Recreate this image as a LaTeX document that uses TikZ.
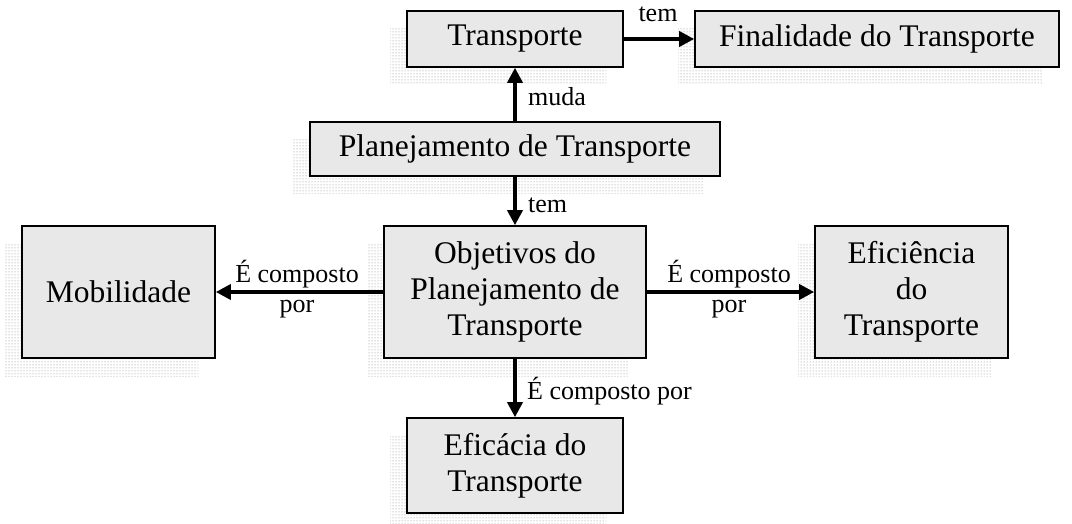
\documentclass[tikz,border=0pt]{standalone}
\usepackage{fontspec}
\setmainfont{Liberation Serif}
\usetikzlibrary{arrows.meta,shadows,patterns}
\definecolor{boxfill}{HTML}{E8E8E8}
\definecolor{dotgray}{HTML}{808080}
\begin{document}
\begin{tikzpicture}[x=1pt,y=-1pt,
  box/.style={draw=black, line width=1.6pt, fill=boxfill, inner sep=0pt, align=center,
    font=\fontsize{31.5}{36}\selectfont,
    general shadow={shadow xshift=-17pt, shadow yshift=-18pt, pattern=dots, pattern color=dotgray}},
  conn/.style={line width=3.5pt, -{Triangle[length=15pt,width=15pt]}},
  lbl/.style={inner sep=0pt, align=center, font=\fontsize{26}{30}\selectfont}]
\useasboundingbox (0,0) rectangle (1072,524);
\node[box, minimum width=216pt, minimum height=56pt] (trans) at (515,39) {Transporte};
\node[box, minimum width=364pt, minimum height=56pt] (fin) at (877,39) {Finalidade do Transporte};
\node[box, minimum width=410pt, minimum height=54pt] (plan) at (515,149) {Planejamento de Transporte};
\node[box, minimum width=262pt, minimum height=132pt] (obj) at (515,292) {Objetivos do\\Planejamento de\\Transporte};
\node[box, minimum width=193pt, minimum height=132pt] (mob) at (118.5,292) {Mobilidade};
\node[box, minimum width=193pt, minimum height=132pt] (efic) at (911.5,292) {Eficiência\\do\\Transporte};
\node[box, minimum width=216pt, minimum height=95pt] (efca) at (515,465.5) {Eficácia do\\Transporte};
\draw[conn] (trans.east) -- (fin.west);
\draw[conn] (plan.north) -- (trans.south);
\draw[conn] (plan.south) -- (obj.north);
\draw[conn] (obj.west) -- (mob.east);
\draw[conn] (obj.east) -- (efic.west);
\draw[conn] (obj.south) -- (efca.north);
\node[lbl] (l1) at (658,14) {tem};
\node[lbl, anchor=west] (l2) at (528,97) {muda};
\node[lbl, anchor=west] (l3) at (528,205) {tem};
\node[lbl] (l4) at (297,289) {É composto\\por};
\node[lbl] (l5) at (729,289) {É composto\\por};
\node[lbl, anchor=west] (l6) at (527,391) {É composto por};
\end{tikzpicture}
\end{document}
